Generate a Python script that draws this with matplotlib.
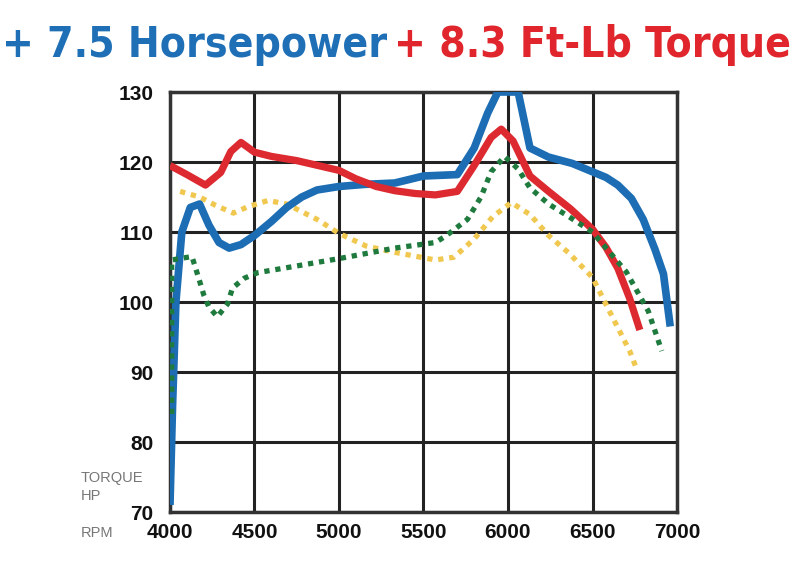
import numpy as np
import matplotlib
matplotlib.use("Agg")
from matplotlib import pyplot as plt

# curve readings (rpm, value)
hp_rpm = [4000, 4015, 4035, 4070, 4120, 4175, 4230, 4290, 4350, 4420, 4500, 4600, 4690, 4780,
          4870, 5000, 5150, 5330, 5500, 5700, 5800, 5880, 5940, 6000, 6060, 6130, 6240,
          6380, 6500, 6580, 6650, 6730, 6800, 6870, 6920, 6960]
hp_val = [71, 85, 100, 110, 113.5, 114, 111, 108.5, 107.7, 108.2, 109.5, 111.5, 113.5, 115,
          116, 116.5, 116.8, 117, 118, 118.2, 122, 127, 130, 130, 130, 122, 120.7,
          119.8, 118.6, 117.8, 116.7, 114.8, 111.8, 107.5, 104, 96.5]

tq_rpm = [4000, 4100, 4210, 4300, 4360, 4420, 4500, 4600, 4750, 5000, 5100, 5220, 5330,
          5450, 5570, 5700, 5800, 5900, 5960, 6030, 6130, 6240, 6370, 6500, 6580, 6650,
          6720, 6780]
tq_val = [119.5, 118.2, 116.7, 118.5, 121.5, 122.8, 121.4, 120.8, 120.2, 118.8, 117.6, 116.5,
          115.9, 115.5, 115.3, 115.8, 119.5, 123.5, 124.7, 123, 118, 115.8, 113.3, 110.4,
          107.8, 104.8, 100.5, 96]

stock_tq_rpm = [4060, 4175, 4270, 4375, 4460, 4580, 4690, 4870, 5000, 5160, 5330, 5570,
                5680, 5800, 5910, 6020, 6130, 6240, 6360, 6500, 6600, 6720, 6760]
stock_tq_val = [115.8, 115, 113.8, 112.7, 113.6, 114.5, 114, 111.8, 109.8, 108, 107.1, 106,
                106.4, 109, 112.2, 114.2, 112.5, 109.5, 107, 103.5, 98.7, 93, 90.5]

stock_hp_rpm = [4010, 4010, 4130, 4175, 4200, 4230, 4280, 4340, 4370, 4440, 4520, 4690,
                5000, 5330, 5570, 5630, 5760, 5840, 5900, 5980, 6060, 6130, 6240, 6360,
                6500, 6700, 6830, 6910]
stock_hp_val = [84, 106, 106.5, 103, 101, 99.3, 97.9, 99.7, 102, 103.4, 104.2, 104.9,
                106.2, 107.7, 108.5, 109.4, 111.8, 115, 118.6, 120.8, 119, 116.3, 114,
                112.2, 110, 104.3, 98.7, 93]

rpm_ticks = [4000, 4500, 5000, 5500, 6000, 6500, 7000]
val_ticks = [70, 80, 90, 100, 110, 120, 130]

blue = "#1c6db3"
red = "#dc2a30"
green = "#1f7a3e"
yellow = "#f0c850"

fig = plt.figure(figsize=(8, 5.63), dpi=100)
ax = fig.add_axes([170 / 800, 51 / 563, 507 / 800, 420 / 563])

ax.plot(stock_tq_rpm, stock_tq_val, color=yellow, lw=3.8, ls=(0, (1, 1.1)), solid_capstyle="butt", zorder=3)
ax.plot(stock_hp_rpm, stock_hp_val, color=green, lw=3.8, ls=(0, (1, 1.1)), solid_capstyle="butt", zorder=6)
ax.plot(hp_rpm, hp_val, color=blue, lw=5.5, solid_capstyle="butt", solid_joinstyle="round", zorder=4)
ax.plot(tq_rpm, tq_val, color=red, lw=5.2, solid_capstyle="butt", solid_joinstyle="round", zorder=5)

ax.set_xlim(4000, 7000)
ax.set_ylim(70, 130)
ax.set_xticks(rpm_ticks)
ax.set_yticks(val_ticks)
ax.grid(True, color="#222222", lw=2.2, zorder=1)
ax.set_axisbelow(True)
for s in ax.spines.values():
    s.set_color("#333333")
    s.set_linewidth(2.5)
ax.tick_params(length=0, labelsize=15)
ax.tick_params(axis="y", pad=12)
ax.tick_params(axis="x", pad=8)
for lab in ax.get_xticklabels() + ax.get_yticklabels():
    lab.set_fontweight("bold")
    lab.set_fontfamily("Liberation Sans")
    lab.set_color("#111111")

small = dict(color="#777777", fontsize=10.5, va="center", family="Liberation Sans")
fig.text(81 / 800, 1 - 478 / 563, "TORQUE", **small)
fig.text(81 / 800, 1 - 496 / 563, "HP", **small)
fig.text(81 / 800, 1 - 533 / 563, "RPM", **small)

tfont = dict(fontsize=30.5, fontweight="bold", family="DejaVu Sans", fontstretch="condensed",
             va="baseline")
fig.text(2 / 800, 1 - 57 / 563, "+ 7.5 Horsepower", color="#1f6fb6", **tfont)
fig.text(394 / 800, 1 - 57 / 563, "+ 8.3 Ft-Lb Torque", color="#e0262c", **tfont)

fig.savefig("out.png", dpi=100, facecolor="white")
